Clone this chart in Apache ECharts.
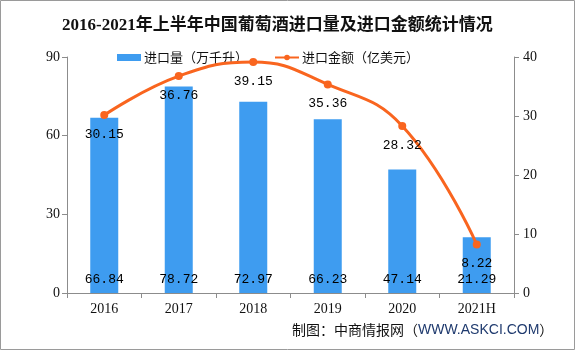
<!DOCTYPE html>
<html>
<head>
<meta charset="utf-8">
<script src="https://cdn.jsdelivr.net/npm/echarts@6/dist/echarts.min.js"></script>
<style>
  html, body { margin: 0; padding: 0; background: #fff; }
  #chart { width: 575px; height: 350px; }
</style>
</head>
<body>
<div id="chart"></div>
<script>
// 2016–2021H wine imports: volume (10k kiloliters) and value (100M USD)
const years = ['2016', '2017', '2018', '2019', '2020', '2021H'];
const importVolume = [66.84, 78.72, 72.97, 66.23, 47.14, 21.29];
const importValue = [30.15, 36.76, 39.15, 35.36, 28.32, 8.22];
const volumeTicks = [0, 30, 60, 90];
const valueTicks = [0, 10, 20, 30, 40];

const serif = '"Liberation Serif", "Times New Roman", serif';
const cjk = '"Noto Sans CJK SC", sans-serif';
const mono = '"Liberation Mono", "DejaVu Sans Mono", monospace';
const axisGray = '#8c8c8c';

const chart = echarts.init(document.getElementById('chart'));

chart.setOption({
  animation: false,
  backgroundColor: '#fff',
  title: {
    text: '2016-2021年上半年中国葡萄酒进口量及进口金额统计情况',
    left: 57,
    top: 12,
    textStyle: {
      fontFamily: serif + ', ' + cjk,
      fontWeight: 'bold',
      fontSize: 17,
      color: '#111'
    }
  },
  legend: {
    top: 46,
    left: 112,
    itemGap: 26,
    itemWidth: 24,
    itemHeight: 7,
    textStyle: { fontFamily: cjk, fontSize: 13, color: '#111', padding: [0, 0, 0, -2] },
    data: [
      { name: '进口量（万千升）', icon: 'rect' },
      { name: '进口金额（亿美元）' }
    ]
  },
  grid: { left: 67, right: 61, top: 57, bottom: 57 },
  xAxis: {
    type: 'category',
    data: years,
    boundaryGap: true,
    axisLine: { lineStyle: { color: axisGray } },
    axisTick: { show: true, length: 5, lineStyle: { color: axisGray } },
    axisLabel: { fontFamily: serif, fontSize: 14, color: '#111', margin: 9 }
  },
  yAxis: [
    {
      type: 'value',
      min: 0,
      max: volumeTicks[volumeTicks.length - 1],
      interval: 30,
      axisLine: { show: true, lineStyle: { color: axisGray } },
      axisTick: { show: true, length: 5, lineStyle: { color: axisGray } },
      splitLine: { show: false },
      axisLabel: { fontFamily: serif, fontSize: 14, color: '#111', margin: 7 }
    },
    {
      type: 'value',
      min: 0,
      max: valueTicks[valueTicks.length - 1],
      interval: 10,
      position: 'right',
      axisLine: { show: true, lineStyle: { color: axisGray } },
      axisTick: { show: true, length: 5, lineStyle: { color: axisGray } },
      splitLine: { show: false },
      axisLabel: { fontFamily: serif, fontSize: 14, color: '#111', margin: 9 }
    }
  ],
  series: [
    {
      name: '进口量（万千升）',
      type: 'bar',
      yAxisIndex: 0,
      data: importVolume,
      barWidth: 28,
      itemStyle: { color: '#3e9cf0' },
      label: {
        show: true,
        position: 'insideBottom',
        distance: 7,
        fontFamily: mono,
        fontSize: 13,
        color: '#000',
        formatter: p => p.value.toFixed(2)
      }
    },
    {
      name: '进口金额（亿美元）',
      type: 'line',
      yAxisIndex: 1,
      data: importValue,
      smooth: 0.45,
      symbol: 'circle',
      symbolSize: 8,
      lineStyle: { color: '#f9651f', width: 3 },
      itemStyle: { color: '#f9651f' },
      label: {
        show: true,
        position: 'bottom',
        distance: 9,
        fontFamily: mono,
        fontSize: 13,
        color: '#000',
        formatter: p => p.value.toFixed(2)
      },
      z: 5
    }
  ],
  graphic: [
    {
      type: 'rect',
      shape: { x: 0.5, y: 0.5, width: 574, height: 349 },
      style: { fill: 'none', stroke: '#9a9a9a', lineWidth: 1 },
      silent: true
    },
    {
      type: 'text',
      left: 292,
      top: 323,
      style: {
        text: '{a|制图：中商情报网（}{b|WWW.ASKCI.COM}{a|）}',
        rich: {
          a: { fontFamily: cjk, fontSize: 14, fill: '#111' },
          b: { fontFamily: '"Liberation Sans", Arial, sans-serif', fontSize: 14, fill: '#1f3a6e' }
        }
      }
    }
  ]
});
</script>
</body>
</html>
